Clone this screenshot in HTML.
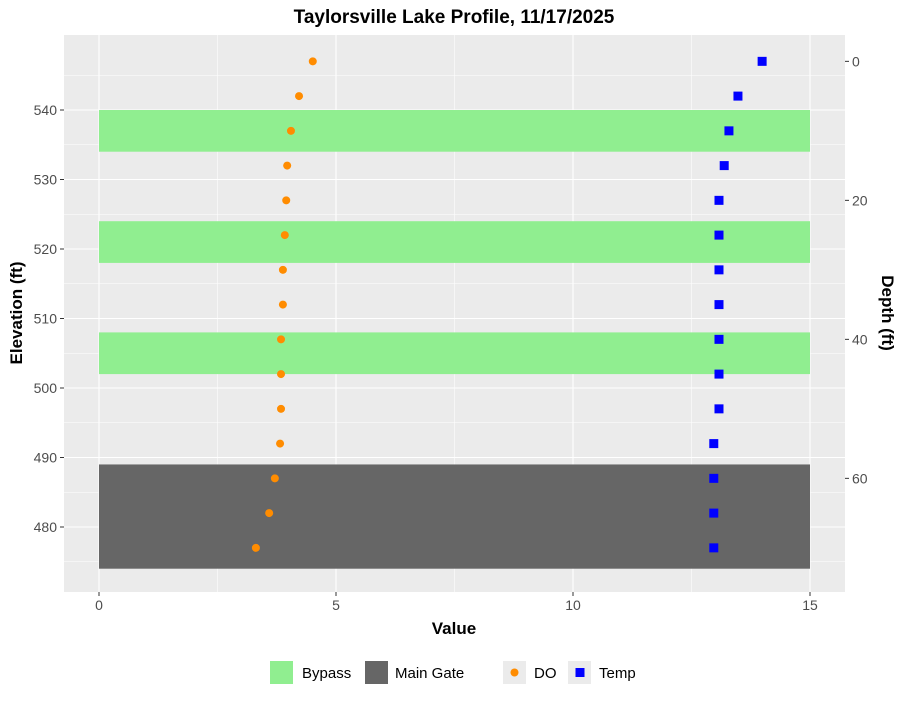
<!DOCTYPE html>
<html><head><meta charset="utf-8"><style>
body{margin:0;background:#fff;font-family:"Liberation Sans",Arial,sans-serif}
</style></head><body>
<svg id="chart" width="900" height="700" xmlns="http://www.w3.org/2000/svg" font-family="Liberation Sans, Arial, sans-serif">
<text x="454" y="23" text-anchor="middle" font-size="19" font-weight="bold">Taylorsville Lake Profile, 11/17/2025</text>
<rect x="64" y="35" width="781" height="557" fill="#ebebeb"/>
<g id="grid"></g><g id="rects"></g><g id="points"></g><g id="axes"></g>
<text x="454" y="634" text-anchor="middle" font-size="17" font-weight="bold">Value</text>
<text transform="translate(22,313) rotate(-90)" text-anchor="middle" font-size="17" font-weight="bold">Elevation (ft)</text>
<text transform="translate(882,313) rotate(90)" text-anchor="middle" font-size="17" font-weight="bold">Depth (ft)</text>
<g font-size="15">
<rect x="270" y="661" width="23" height="23" fill="#90ee90"/>
<text x="302" y="678">Bypass</text>
<rect x="365" y="661" width="23" height="23" fill="#666666"/>
<text x="395" y="678">Main Gate</text>
<rect x="503" y="661" width="23" height="23" fill="#ebebeb"/>
<circle cx="514.5" cy="672.5" r="4" fill="#ff8c00"/>
<text x="534" y="678">DO</text>
<rect x="568" y="661" width="23" height="23" fill="#ebebeb"/>
<rect x="575.5" y="668" width="9" height="9" fill="#0000ff"/>
<text x="599" y="678">Temp</text>
</g>
</svg>
<script>
const depths=[0,5,10,15,20,25,30,35,40,45,50,55,60,65,70];
const doValues=[4.51,4.22,4.05,3.97,3.95,3.92,3.88,3.88,3.84,3.84,3.84,3.82,3.71,3.59,3.31];
const tempValues=[13.99,13.48,13.29,13.19,13.08,13.08,13.08,13.08,13.08,13.08,13.08,12.97,12.97,12.97,12.97];
const surfaceElev=547;
const bypassBands=[[534,540],[518,524],[502,508]];
const mainGateBands=[[474,489]];
const xTicks=[0,5,10,15];
const yTicks=[480,490,500,510,520,530,540];
const depthTicks=[0,20,40,60];
const NS="http://www.w3.org/2000/svg";
const x=v=>99+v*47.4;
const y=e=>527-(e-480)*6.95;
const yd=d=>y(surfaceElev-d);
function mk(p,tag,a){const e=document.createElementNS(NS,tag);for(const k in a)e.setAttribute(k,a[k]);p.appendChild(e);return e;}
const G=document.getElementById('grid'),R=document.getElementById('rects'),P=document.getElementById('points'),A=document.getElementById('axes');
for(let e=475;e<=545;e+=5){const major=e%10===0;const l=mk(G,'line',{x1:64,x2:845,y1:y(e),y2:y(e),stroke:'#fff','stroke-width':major?1.1:0.55});
}
for(let v=0;v<=15;v+=2.5){const major=v%5===0;const l=mk(G,'line',{x1:x(v),x2:x(v),y1:35,y2:592,stroke:'#fff','stroke-width':major?1.1:0.55});
}
bypassBands.forEach(b=>{const r=mk(R,'rect',{x:x(0),width:x(15)-x(0),y:y(b[1]),height:y(b[0])-y(b[1]),fill:'#90ee90'});
});
mainGateBands.forEach(b=>{const r=mk(R,'rect',{x:x(0),width:x(15)-x(0),y:y(b[1]),height:y(b[0])-y(b[1]),fill:'#666666'});
});
depths.forEach((d,i)=>{const c=mk(P,'circle',{cx:x(doValues[i]),cy:yd(d),r:4,fill:'#ff8c00'});

const s=mk(P,'rect',{x:x(tempValues[i])-4.5,y:yd(d)-4.5,width:9,height:9,fill:'#0000ff'});
});
xTicks.forEach(v=>{const t=mk(A,'line',{x1:x(v),x2:x(v),y1:592,y2:596,stroke:'#333'});
const l=mk(A,'text',{x:x(v),y:610,'text-anchor':'middle','font-size':14,fill:'#4d4d4d'});l.textContent=v;});
yTicks.forEach(v=>{const t=mk(A,'line',{x1:60,x2:64,y1:y(v),y2:y(v),stroke:'#333'});
const l=mk(A,'text',{x:57,y:y(v)+5,'text-anchor':'end','font-size':14,fill:'#4d4d4d'});l.textContent=v;});
depthTicks.forEach(v=>{const t=mk(A,'line',{x1:845,x2:849,y1:yd(v),y2:yd(v),stroke:'#333'});
const l=mk(A,'text',{x:852,y:yd(v)+5,'font-size':14,fill:'#4d4d4d'});l.textContent=v;});
</script>
</body></html>
